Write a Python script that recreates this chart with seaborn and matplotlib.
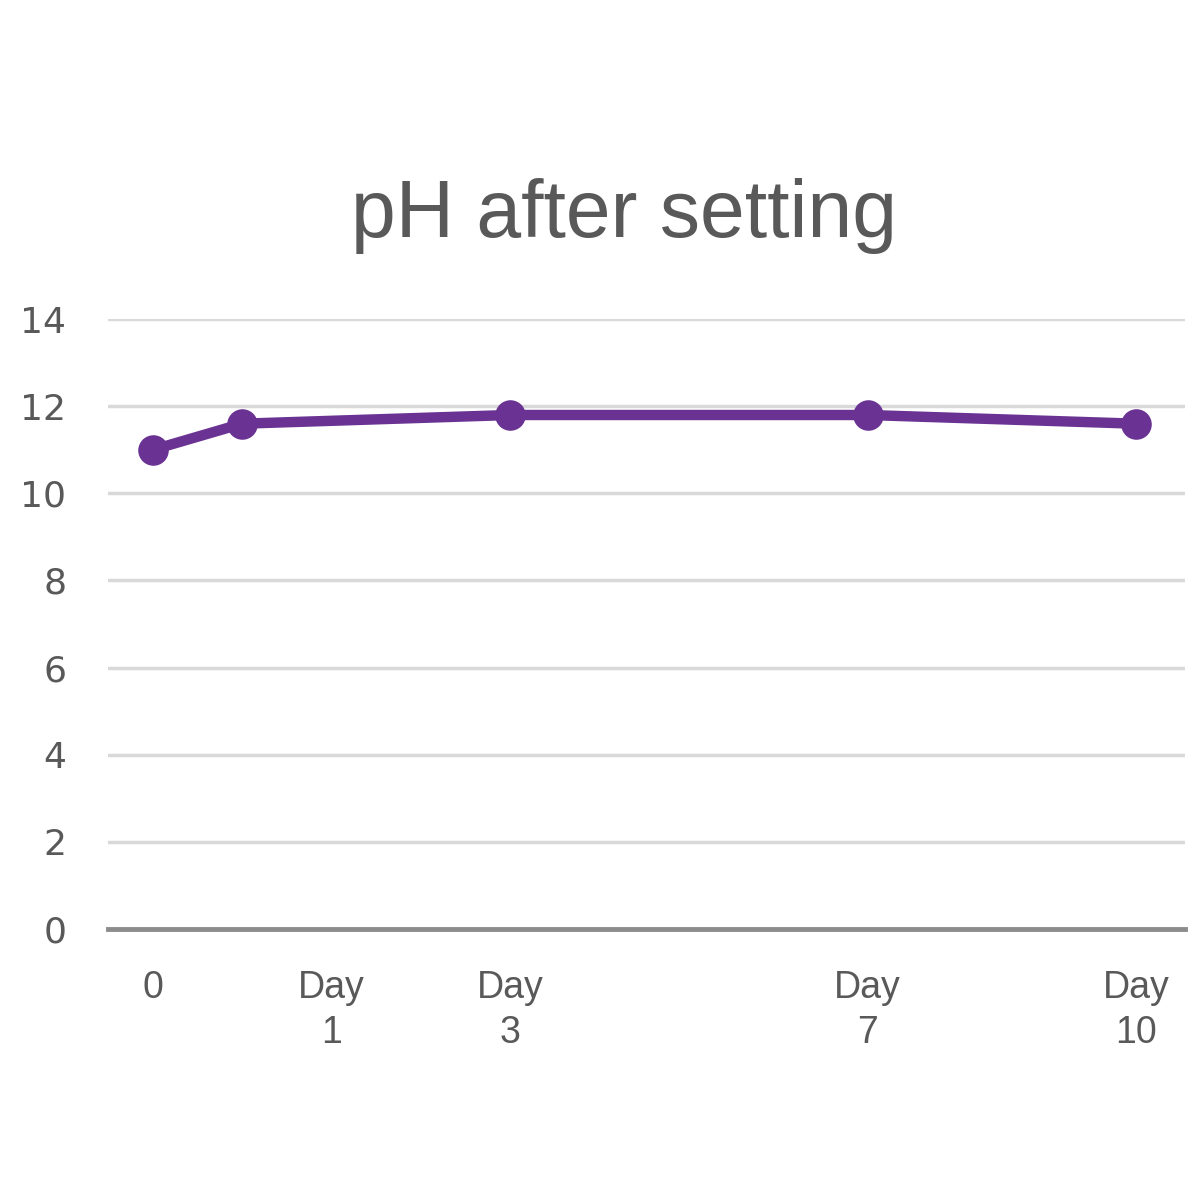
import matplotlib
matplotlib.use("Agg")
import matplotlib.pyplot as plt
import seaborn as sns
import pandas as pd

# Datos
x_pos = [0, 1, 4, 8, 11]
ph_values = [11.0, 11.6, 11.8, 11.8, 11.6]
tick_pos = [0, 2, 4, 8, 11]
tick_labels = ["0", "Day\n1", "Day\n3", "Day\n7", "Day\n10"]
y_ticks = [0, 2, 4, 6, 8, 10, 12, 14]

df = pd.DataFrame({"x": x_pos, "ph": ph_values})

sns.set_style("white")
plt.rcParams["font.family"] = ["Liberation Sans", "DejaVu Sans"]

fig = plt.figure(figsize=(12, 12), dpi=100)
ax = fig.add_axes([0.09, 0.226, 0.8975, 0.508])

sns.lineplot(x="x", y="ph", data=df, ax=ax, color="#6a3393", linewidth=7.5,
             marker="o", markersize=22, markeredgewidth=0)

ax.set_xlim(-0.5, 11.55)
ax.set_ylim(0, 14)
ax.set_yticks(y_ticks)
ax.set_yticklabels([str(v) for v in y_ticks], fontsize=26, color="#595959")
for lbl in ax.get_yticklabels():
    lbl.set_fontfamily("DejaVu Sans")
ax.set_xticks(tick_pos)
ax.set_xticklabels(tick_labels, fontsize=27, color="#595959",
                   linespacing=1.3, va="top")
ax.tick_params(axis="both", length=0)
ax.tick_params(axis="x", pad=30)
ax.tick_params(axis="y", pad=30)

ax.grid(axis="y", color="#d9d9d9", linewidth=2.5)
ax.set_axisbelow(True)
for s in ["top", "right", "left"]:
    ax.spines[s].set_visible(False)
ax.spines["bottom"].set_color("#8c8c8c")
ax.spines["bottom"].set_linewidth(3.5)
ax.set_xlabel("")
ax.set_ylabel("")

fig.text(0.52, 0.82, "pH after setting", ha="center", va="center",
         fontsize=58, color="#595959")

fig.savefig("out.png", dpi=100, facecolor="white")
